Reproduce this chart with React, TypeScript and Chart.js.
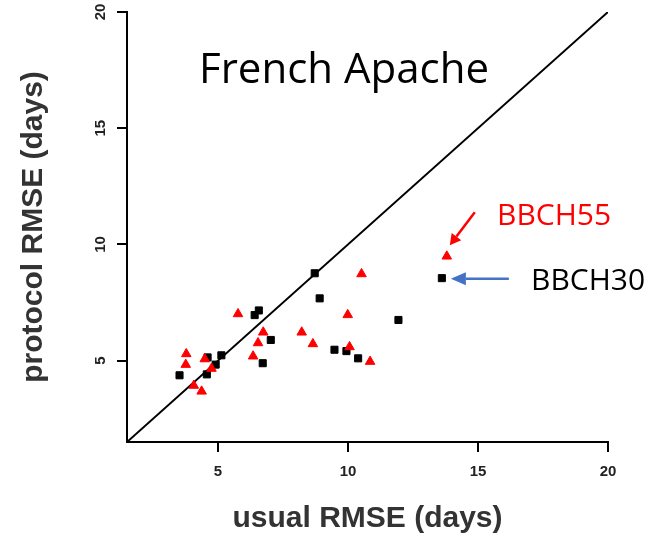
import React, { useEffect, useRef } from "react";
import { Chart, registerables } from "chart.js";

Chart.register(...registerables);

// RMSE (days): usual protocol on x, adapted protocol on y
const bbch30X = [3.52, 4.6, 4.57, 4.91, 5.13, 6.41, 6.57, 7.03, 6.72, 8.72, 8.91, 9.48, 9.94, 10.39, 11.94, 13.61];
const bbch30Y = [4.37, 5.14, 4.41, 4.83, 5.23, 6.96, 7.16, 5.89, 4.89, 8.76, 7.68, 5.47, 5.41, 5.1, 6.75, 8.55];

const bbch55X = [3.78, 3.76, 4.49, 4.75, 4.07, 4.37, 5.77, 6.74, 6.54, 6.35, 8.22, 8.65, 10.52, 9.99, 10.06, 10.85, 13.8];
const bbch55Y = [5.29, 4.83, 5.07, 4.66, 3.93, 3.68, 7.01, 6.22, 5.76, 5.19, 6.22, 5.72, 8.73, 6.97, 5.59, 4.96, 9.49];

const axisMin = 1.5;
const axisMax = 20;
const tickValues = [5, 10, 15, 20];

const xTitle = "usual RMSE (days)";
const yTitle = "protocol RMSE (days)";
const chartTitle = "French Apache";
const label55 = "BBCH55";
const label30 = "BBCH30";

const toPoints = (xs: number[], ys: number[]) => xs.map((x, i) => ({ x, y: ys[i] }));

function arrow(ctx: CanvasRenderingContext2D, x0: number, y0: number, x1: number, y1: number, color: string, headLen: number, headHalf: number) {
  const ang = Math.atan2(y1 - y0, x1 - x0);
  const bx = x1 - Math.cos(ang) * headLen;
  const by = y1 - Math.sin(ang) * headLen;
  ctx.save();
  ctx.strokeStyle = color;
  ctx.fillStyle = color;
  ctx.lineWidth = 2.5;
  ctx.beginPath();
  ctx.moveTo(x0, y0);
  ctx.lineTo(bx, by);
  ctx.stroke();
  ctx.beginPath();
  ctx.moveTo(x1, y1);
  ctx.lineTo(bx + Math.sin(ang) * headHalf, by - Math.cos(ang) * headHalf);
  ctx.lineTo(bx - Math.sin(ang) * headHalf, by + Math.cos(ang) * headHalf);
  ctx.closePath();
  ctx.fill();
  ctx.restore();
}

const annotations = {
  id: "annotations",
  afterDraw(chart: any) {
    const { ctx, scales } = chart;
    const xs = scales.x;
    const ys = scales.y;
    ctx.save();
    ctx.textBaseline = "alphabetic";
    ctx.font = '42px "Open Sans"';
    ctx.fillStyle = "#000";
    ctx.textAlign = "center";
    ctx.fillText(chartTitle, 344, 83);

    ctx.textAlign = "left";
    ctx.font = '30px "Open Sans"';
    ctx.fillStyle = "#ff0000";
    ctx.fillText(label55, 497, 225);
    ctx.fillStyle = "#000";
    ctx.fillText(label30, 531, 290);

    // arrows pointing at the last point of each series
    const p55x = xs.getPixelForValue(bbch55X[bbch55X.length - 1]);
    const p55y = ys.getPixelForValue(bbch55Y[bbch55Y.length - 1]);
    arrow(ctx, p55x + 28, p55y - 44, p55x + 3, p55y - 11, "#ff0000", 11, 6);
    const p30x = xs.getPixelForValue(bbch30X[bbch30X.length - 1]);
    const p30y = ys.getPixelForValue(bbch30Y[bbch30Y.length - 1]);
    arrow(ctx, p30x + 67, p30y + 0.5, p30x + 9, p30y + 0.5, "#4472c4", 15, 6.5);
    ctx.restore();
  },
};

export default function App() {
  const ref = useRef<HTMLCanvasElement | null>(null);

  useEffect(() => {
    if (!ref.current) return;
    const tickFont = { family: '"Liberation Sans", Arial, sans-serif', size: 15, weight: "bold" as const };
    const titleFont = { family: '"Liberation Sans", Arial, sans-serif', size: 30, weight: "bold" as const };
    const chart = new Chart(ref.current, {
      type: "scatter",
      data: {
        datasets: [
          {
            label: label55,
            data: toPoints(bbch55X, bbch55Y),
            pointStyle: "triangle",
            pointRadius: 5.5,
            borderWidth: 1,
            backgroundColor: "#ff0000",
            borderColor: "#ff0000",
          },
          {
            label: label30,
            data: toPoints(bbch30X, bbch30Y),
            pointStyle: "rect",
            pointRadius: 5,
            borderWidth: 1,
            backgroundColor: "#000",
            borderColor: "#000",
          },
          {
            label: "1:1",
            type: "line",
            data: [
              { x: axisMin, y: axisMin },
              { x: axisMax, y: axisMax },
            ],
            showLine: true,
            borderColor: "#000",
            borderWidth: 2,
            pointRadius: 0,
            fill: false,
          } as any,
        ],
      },
      options: {
        animation: false,
        responsive: false,
        devicePixelRatio: 1,
        layout: { padding: { left: 0, top: 12, right: 46, bottom: 0 } },
        plugins: { legend: { display: false }, tooltip: { enabled: false } },
        scales: {
          x: {
            type: "linear",
            min: axisMin,
            max: axisMax,
            afterBuildTicks: (s: any) => {
              s.ticks = tickValues.map((v) => ({ value: v }));
            },
            afterFit: (s: any) => {
              s.height = 95;
              s.paddingLeft = 0;
              s.paddingRight = 0;
            },
            grid: { display: true, drawOnChartArea: false, drawTicks: true, tickLength: 10, color: "#000", lineWidth: 2 },
            border: { display: true, color: "#000", width: 2 },
            ticks: { font: tickFont, color: "#222", padding: 11, maxRotation: 0, autoSkip: false },
            title: { display: true, text: xTitle, font: titleFont, color: "#333", padding: { top: 0, bottom: 0 } },
          },
          y: {
            type: "linear",
            min: axisMin,
            max: axisMax,
            afterBuildTicks: (s: any) => {
              s.ticks = tickValues.map((v) => ({ value: v }));
            },
            afterFit: (s: any) => {
              s.width = 127;
              s.paddingTop = 0;
              s.paddingBottom = 0;
            },
            grid: { display: true, drawOnChartArea: false, drawTicks: true, tickLength: 10, color: "#000", lineWidth: 2 },
            border: { display: true, color: "#000", width: 2 },
            ticks: { font: tickFont, color: "#222", padding: 8, minRotation: 90, maxRotation: 90, crossAlign: "center", autoSkip: false },
            title: { display: true, text: yTitle, font: titleFont, color: "#333", padding: { top: 16, bottom: 0 } },
          },
        },
      },
      plugins: [annotations],
    });
    return () => chart.destroy();
  }, []);

  return (
    <div style={{ position: "absolute", left: 0, top: 0, width: 654, height: 537, background: "#fff" }}>
      <canvas ref={ref} width={654} height={537} />
    </div>
  );
}
